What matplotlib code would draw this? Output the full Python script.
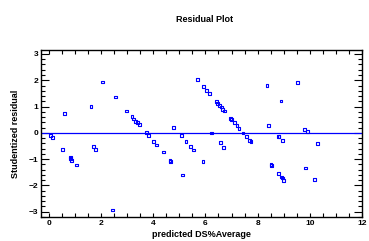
import matplotlib
matplotlib.use('Agg')
import matplotlib.pyplot as plt
from matplotlib.ticker import MultipleLocator

# predicted values and studentized residuals
pred = [0.06, 0.15, 0.52, 0.60, 0.82, 0.84, 0.86, 1.05, 1.62, 1.71, 1.79, 2.06,
        2.43, 2.54, 2.99, 3.19, 3.24, 3.33, 3.40, 3.46, 3.73, 3.81, 4.01, 4.13,
        4.38, 4.64, 4.67, 4.79, 5.08, 5.11, 5.26, 5.42, 5.53, 5.71, 5.91, 5.94,
        6.04, 6.16, 6.22, 6.41, 6.45, 6.53, 6.57, 6.61, 6.64, 6.68, 6.72, 6.96,
        7.00, 7.11, 7.21, 7.29, 7.44, 7.56, 7.70, 7.75, 8.36, 8.43, 8.51, 8.53,
        8.79, 8.80, 8.82, 8.90, 8.91, 8.94, 8.95, 8.99, 9.53, 9.81, 9.83, 9.90,
        10.17, 10.28]
resid = [-0.09, -0.19, -0.62, 0.75, -0.92, -0.98, -1.04, -1.22, 1.01, -0.53, -0.62, 1.93,
         -2.93, 1.36, 0.83, 0.62, 0.53, 0.43, 0.38, 0.32, 0.00, -0.09, -0.34, -0.46,
         -0.73, -1.04, -1.08, 0.19, -0.11, -1.60, -0.34, -0.52, -0.65, 2.02, -1.08, 1.76,
         1.62, 1.49, -0.01, 1.20, 1.13, 1.03, -0.38, 0.98, 0.88, -0.56, 0.83, 0.55,
         0.52, 0.38, 0.28, 0.17, -0.01, -0.15, -0.28, -0.34, 1.79, 0.29, -1.21, -1.25,
         -1.56, -0.13, -0.15, 1.21, -1.68, -0.29, -1.72, -1.81, 1.91, 0.13, -1.34, 0.05,
         -1.77, -0.42]

plt.rcParams['font.family'] = ['Liberation Sans', 'DejaVu Sans']
plt.rcParams['font.weight'] = 'bold'

fig = plt.figure(figsize=(3.69, 2.41), dpi=100)
ax = fig.add_axes([41/369, 24/241, 321/369, 167/241])

ax.scatter(pred, resid, marker='s', s=4, facecolors='none', edgecolors='#0000ff', linewidths=0.8, zorder=3)
ax.axhline(0, color='#0000ff', lw=0.9)

ax.set_xlim(-0.3, 12.0)
ax.set_ylim(-3.2, 3.15)
ax.xaxis.set_major_locator(MultipleLocator(2))
ax.xaxis.set_minor_locator(MultipleLocator(0.5))
ax.yaxis.set_major_locator(MultipleLocator(1))
ax.yaxis.set_minor_locator(MultipleLocator(0.2))
ax.tick_params(which='both', direction='in', top=True, right=True, labelsize=6, width=0.8, pad=2)
ax.tick_params(axis='y', which='major', length=6)
ax.tick_params(axis='y', which='minor', length=3)
ax.tick_params(axis='x', which='both', length=3)
for s in ax.spines.values():
    s.set_linewidth(1.0)

ax.set_title('Residual Plot', fontsize=6.5, fontweight='bold', pad=20, x=0.51)
ax.set_xlabel('predicted DS%Average', fontsize=6.5, fontweight='bold', labelpad=2)
ax.set_ylabel('Studentized residual', fontsize=6.5, fontweight='bold', labelpad=6)

fig.savefig('out.png', dpi=100)
